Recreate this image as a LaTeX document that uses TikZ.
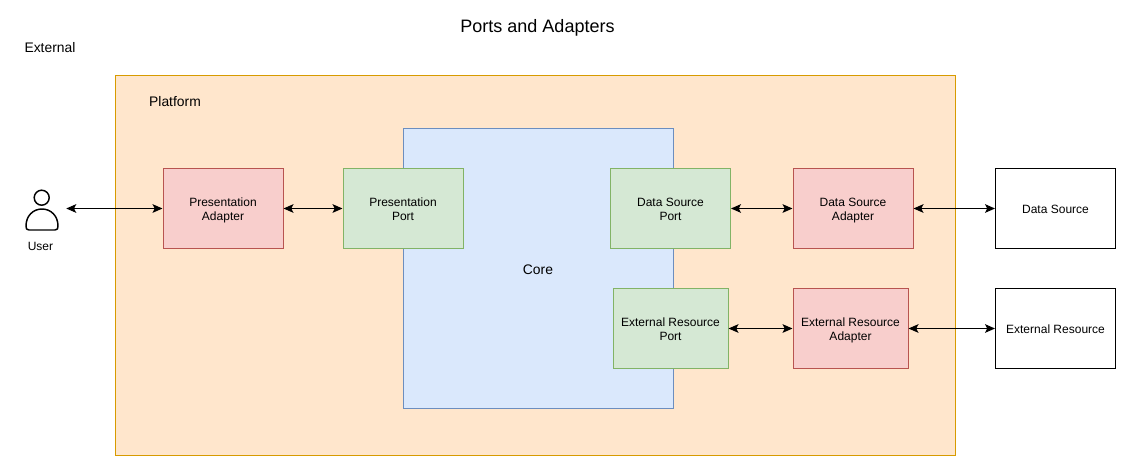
\documentclass[tikz,border=0pt]{standalone}
\usepackage{fontspec}
\setmainfont{Liberation Sans}
\usepackage{tikz}
\usetikzlibrary{arrows.meta}
\definecolor{platformfill}{HTML}{FFE6CC}
\definecolor{platformline}{HTML}{D79B00}
\definecolor{corefill}{HTML}{DAE8FC}
\definecolor{coreline}{HTML}{6C8EBF}
\definecolor{adapterfill}{HTML}{F8CECC}
\definecolor{adapterline}{HTML}{B85450}
\definecolor{portfill}{HTML}{D5E8D4}
\definecolor{portline}{HTML}{82B366}
\tikzset{
  box/.style={draw,line width=0.75pt,align=center,font=\fontsize{9}{10.5}\selectfont,
    text height=18pt,text depth=0pt,
    minimum width=#1*0.75pt,minimum height=60pt,inner sep=0pt},
  box/.default=120,
  adapter/.style={box=#1,fill=adapterfill,draw=adapterline},
  adapter/.default=120,
  port/.style={box=#1,fill=portfill,draw=portline},
  port/.default=120,
  endbox/.style={box,fill=white,draw=black,text height=7.5pt,text depth=0pt},
  plain/.style={font=\fontsize{9}{10.5}\selectfont,inner sep=0pt},
  biglabel/.style={font=\fontsize{10.4}{12}\selectfont,inner sep=0pt},
  link/.style={{Stealth[length=7.5pt,width=6.5pt,inset=1.7pt]}-{Stealth[length=7.5pt,width=6.5pt,inset=1.7pt]},line width=0.8pt}
}
\begin{document}
\begin{tikzpicture}[x=0.75pt,y=-0.75pt]
  \useasboundingbox (0,0) rectangle (1131,471);
  \node[font=\fontsize{13.5}{16}\selectfont,inner sep=0pt] (title) at (537.5,28) {Ports and Adapters};
  \node[biglabel] (external) at (50,48) {External};
% Platform and core
  \node[draw=platformline,fill=platformfill,line width=0.75pt,minimum width=630pt,minimum height=285pt,inner sep=0pt] (platform) at (535,265.5) {};
  \node[biglabel] (platformlabel) at (175,102) {Platform};
  \node[draw=coreline,fill=corefill,line width=0.75pt,minimum width=202.5pt,minimum height=210pt,inner sep=0pt] (core) at (538,268) {};
  \node[biglabel] (corelabel) at (538,270) {Core};
% Boxes
  \node[adapter] (presadapter) at (223,208.5) {Presentation\\Adapter};
  \node[port] (presport) at (403,208.5) {Presentation\\Port};
  \node[port] (dataport) at (670.5,208.5) {Data Source\\Port};
  \node[adapter] (dataadapter) at (853,208.5) {Data Source\\Adapter};
  \node[endbox] (datasource) at (1055.5,208.5) {Data Source};
  \node[port=115] (extport) at (670.5,328.5) {External Resource\\Port};
  \node[adapter=115] (extadapter) at (850.5,328.5) {External Resource\\Adapter};
  \node[endbox] (extresource) at (1055.5,328.5) {External Resource};
% User icon
  \node[minimum width=36pt,minimum height=36pt,inner sep=0pt] (user) at (42,208.5) {};
  \draw[line width=1.1pt] (41.7,197.7) circle (7.5);
  \draw[line width=1.1pt,line join=round] (29,230) .. controls (26.5,230) and (26,228.5) .. (26,226)
    .. controls (26,216) and (33,209) .. (42,209)
    .. controls (51,209) and (58,216) .. (58,226)
    .. controls (58,228.5) and (57.5,230) .. (55,230) -- cycle;
  \node[plain] (userlabel) at (40.5,246) {User};
% Connectors
  \draw[link] (user) -- (presadapter);
  \draw[link] (presadapter) -- (presport);
  \draw[link] (dataport) -- (dataadapter);
  \draw[link] (dataadapter) -- (datasource);
  \draw[link] (extport) -- (extadapter);
  \draw[link] (extadapter) -- (extresource);
\end{tikzpicture}
\end{document}
